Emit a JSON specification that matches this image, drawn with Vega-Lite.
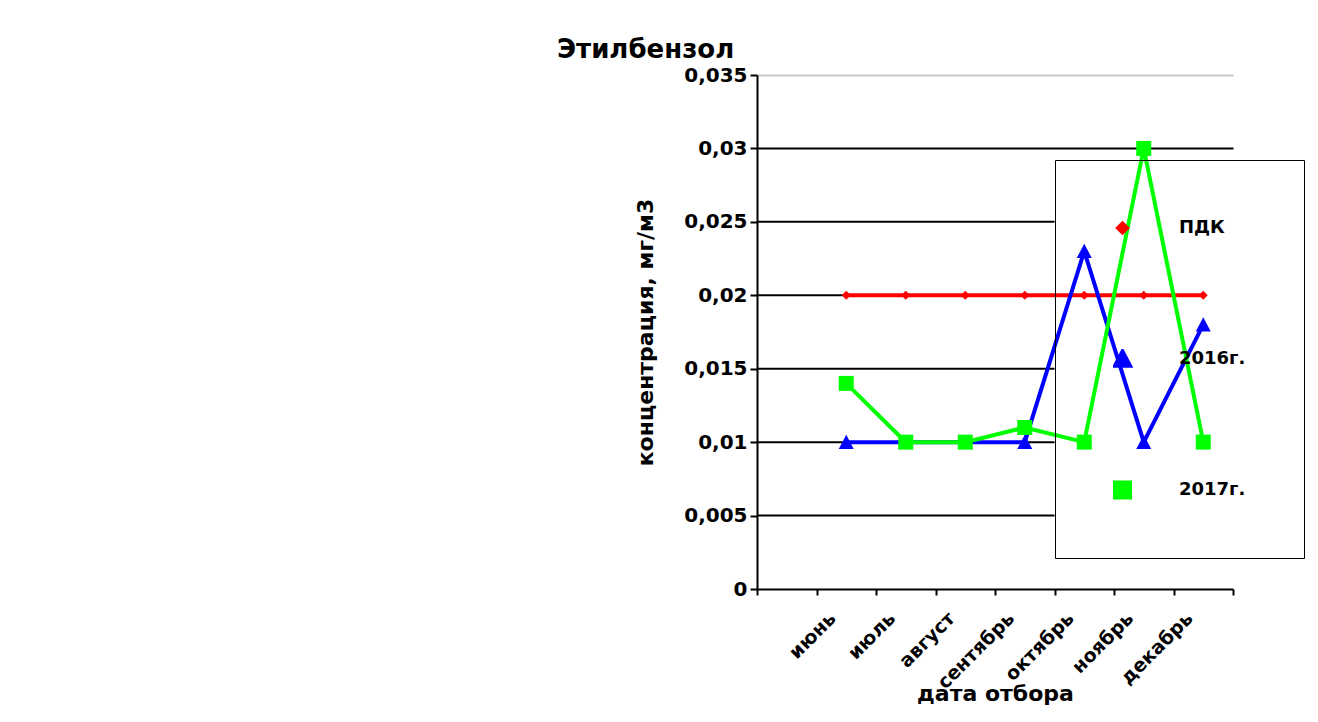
{
  "$schema": "https://vega.github.io/schema/vega-lite/v6.json",
  "autosize": "none",
  "width": 476,
  "height": 514,
  "padding": {"left": 757, "top": 75, "right": 85, "bottom": 133},
  "background": "white",
  "title": {
    "text": "Этилбензол",
    "anchor": "start",
    "frame": "group",
    "dx": -200,
    "offset": -19,
    "baseline": "alphabetic",
    "font": "DejaVu Sans",
    "fontSize": 26,
    "fontWeight": "bold",
    "color": "black"
  },
  "data": {
    "values": [
      {"month": "июнь", "series": "ПДК", "value": 0.02},
      {"month": "июль", "series": "ПДК", "value": 0.02},
      {"month": "август", "series": "ПДК", "value": 0.02},
      {"month": "сентябрь", "series": "ПДК", "value": 0.02},
      {"month": "октябрь", "series": "ПДК", "value": 0.02},
      {"month": "ноябрь", "series": "ПДК", "value": 0.02},
      {"month": "декабрь", "series": "ПДК", "value": 0.02},
      {"month": "июнь", "series": "2016г.", "value": 0.01},
      {"month": "июль", "series": "2016г.", "value": 0.01},
      {"month": "август", "series": "2016г.", "value": 0.01},
      {"month": "сентябрь", "series": "2016г.", "value": 0.01},
      {"month": "октябрь", "series": "2016г.", "value": 0.023},
      {"month": "ноябрь", "series": "2016г.", "value": 0.01},
      {"month": "декабрь", "series": "2016г.", "value": 0.018},
      {"month": "июнь", "series": "2017г.", "value": 0.014},
      {"month": "июль", "series": "2017г.", "value": 0.01},
      {"month": "август", "series": "2017г.", "value": 0.01},
      {"month": "сентябрь", "series": "2017г.", "value": 0.011},
      {"month": "октябрь", "series": "2017г.", "value": 0.01},
      {"month": "ноябрь", "series": "2017г.", "value": 0.03},
      {"month": "декабрь", "series": "2017г.", "value": 0.01}
    ]
  },
  "transform": [{"calculate": "datum.series", "as": "marker"}],
  "encoding": {
    "x": {
      "field": "month",
      "type": "nominal",
      "sort": null,
      "scale": {"type": "band", "domain": ["", "июнь", "июль", "август", "сентябрь", "октябрь", "ноябрь", "декабрь"], "paddingInner": 0, "paddingOuter": 0},
      "axis": {
        "title": "дата отбора",
        "tickBand": "extent",
        "tickSize": 6,
        "tickWidth": 2,
        "tickColor": "black",
        "domainColor": "black",
        "domainWidth": 2,
        "labelAngle": -45,
        "labelAlign": "right",
        "labelBaseline": "middle",
        "labelPadding": 20,
        "labelOffset": -14,
        "labelFont": "DejaVu Sans",
        "labelFontSize": 19,
        "labelFontWeight": "bold",
        "labelColor": "black",
        "labelOverlap": false,
        "grid": false,
        "titleFont": "DejaVu Sans",
        "titleFontSize": 22,
        "titleFontWeight": "bold",
        "titleColor": "black",
        "titleY": 111,
        "titleBaseline": "alphabetic"
      }
    },
    "y": {
      "field": "value",
      "type": "quantitative",
      "scale": {"domain": [0, 0.035], "nice": false, "zero": true},
      "axis": {
        "title": "концентрация, мг/м3",
        "values": [0, 0.005, 0.01, 0.015, 0.02, 0.025, 0.03, 0.035],
        "labelExpr": "replace(format(datum.value, '~g'), '.', ',')",
        "tickSize": 7,
        "tickWidth": 2,
        "tickColor": "black",
        "domainColor": "black",
        "domainWidth": 2,
        "labelPadding": 3,
        "labelFont": "DejaVu Sans",
        "labelFontSize": 20,
        "labelFontWeight": "bold",
        "labelColor": "black",
        "grid": true,
        "gridColor": {"condition": {"test": "datum.value >= 0.035", "value": "#c8c8c8"}, "value": "black"},
        "gridOpacity": {"condition": {"test": "datum.value >= 0.03", "value": 1}, "value": 0},
        "gridWidth": 2,
        "titleFont": "DejaVu Sans",
        "titleFontSize": 22,
        "titleFontWeight": "bold",
        "titleColor": "black",
        "titleAngle": -90,
        "titleX": -105,
        "titleY": 257,
        "titleAlign": "center",
        "titleBaseline": "alphabetic"
      }
    },
    "color": {
      "field": "series",
      "type": "nominal",
      "scale": {"domain": ["ПДК", "2016г.", "2017г."], "range": ["#ff0000", "#0000ff", "#00ff00"]},
      "legend": {
        "title": null,
        "orient": "none",
        "legendX": 298,
        "legendY": 85,
        "strokeColor": "black",
        "padding": 58,
        "rowPadding": 111,
        "clipHeight": 20,
        "symbolSize": 225,
        "symbolStrokeWidth": 4,
        "labelOffset": 47,
        "labelFont": "DejaVu Sans",
        "labelFontSize": 18,
        "labelFontWeight": "bold",
        "labelColor": "black",
        "encode": {
          "legend": {
            "strokeWidth": {"value": 2}
          }
        }
      }
    }
  },
  "layer": [
    {
      "data": {"values": [{"value": 0.005}, {"value": 0.01}, {"value": 0.015}, {"value": 0.02}, {"value": 0.025}]},
      "mark": {"type": "rule", "strokeWidth": 2},
      "encoding": {
        "x": {"datum": "", "bandPosition": 0},
        "x2": {"datum": "октябрь", "bandPosition": 0},
        "y": {"field": "value", "type": "quantitative"},
        "color": {"value": "black"}
      }
    },
    {
      "mark": {"type": "line", "strokeWidth": 4}
    },
    {
      "mark": {"type": "point", "filled": true, "opacity": 1, "size": 225},
      "encoding": {
        "shape": {
          "field": "marker",
          "type": "nominal",
          "scale": {"domain": ["ПДК", "2016г.", "2017г."], "range": ["M0,-0.6L0.6,0L0,0.6L-0.6,0Z", "M0,-1L1,0.9L-1,0.9Z", "M-1,-1H1V1H-1Z"]},
          "legend": null
        }
      }
    }
  ],
  "config": {
    "view": {"stroke": null},
    "font": "DejaVu Sans"
  }
}
